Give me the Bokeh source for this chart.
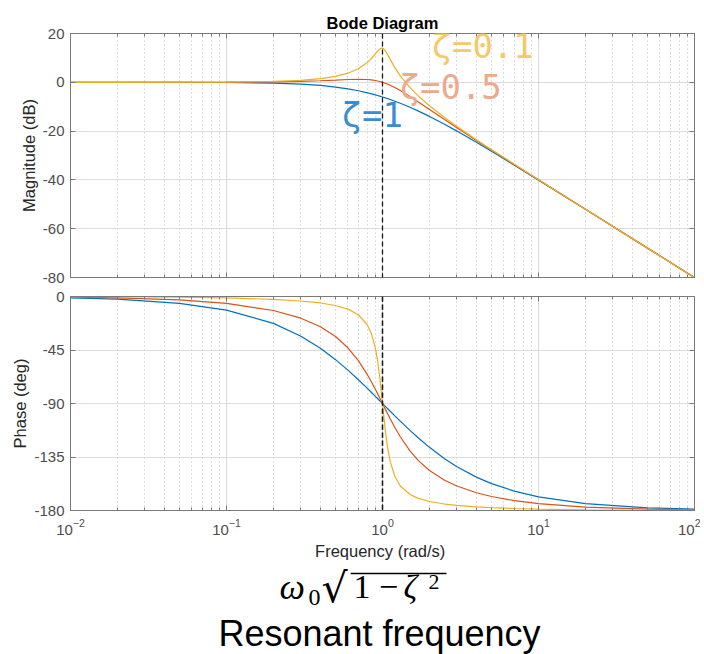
from bokeh.plotting import figure
from bokeh.layouts import column
from bokeh.models import FixedTicker, LinearAxis, LogAxis, Span, Label, Arrow, Range1d, Title
from bokeh.embed import file_html
from bokeh.resources import INLINE

# ---------------- data ----------------
freq = [0.01, 0.02, 0.05, 0.1, 0.2, 0.3, 0.4, 0.5, 0.6, 0.7, 0.8, 0.85, 0.9, 0.93,
        0.96, 0.98, 0.99, 1.0, 1.01, 1.02, 1.05, 1.08, 1.12, 1.2, 1.3, 1.5, 1.7, 2,
        2.5, 3, 4, 5, 7, 10, 20, 50, 100]

mag_z1 = [0.0, 0.0, -0.02, -0.09, -0.34, -0.75, -1.29, -1.94, -2.67, -3.46, -4.30,
          -4.72, -5.15, -5.41, -5.67, -5.85, -5.93, -6.02, -6.11, -6.19, -6.45, -6.71,
          -7.06, -7.75, -8.60, -10.24, -11.80, -13.98, -17.21, -20.00, -24.61, -28.30,
          -33.98, -40.09, -52.06, -67.96, -80.00]
mag_z05 = [0.0, 0.0, 0.01, 0.04, 0.17, 0.37, 0.63, 0.90, 1.14, 1.25, 1.14, 0.97, 0.73,
           0.54, 0.33, 0.17, 0.09, 0.0, -0.09, -0.18, -0.47, -0.77, -1.20, -2.13, -3.36,
           -5.81, -8.10, -11.14, -15.29, -18.63, -23.82, -27.79, -33.72, -39.96, -52.03,
           -67.96, -80.00]
mag_z01 = [0.0, 0.0, 0.02, 0.09, 0.35, 0.80, 1.48, 2.42, 3.73, 5.53, 8.09, 9.75, 11.64,
           12.77, 13.66, 13.98, 14.02, 13.98, 13.85, 13.64, 12.63, 11.29, 9.40, 6.00, 2.65,
           -2.18, -5.67, -9.62, -14.44, -18.09, -23.53, -27.61, -33.63, -39.91, -52.02,
           -67.96, -80.00]

ph_z1 = [-1.15, -2.29, -5.72, -11.42, -22.62, -33.40, -43.60, -53.13, -61.93, -69.98,
         -77.32, -80.73, -83.97, -85.83, -87.66, -88.84, -89.42, -90.00, -90.57, -91.13,
         -92.79, -94.41, -96.48, -100.39, -104.86, -112.62, -119.07, -126.87, -136.40,
         -143.13, -151.93, -157.38, -163.74, -168.58, -174.28, -177.71, -178.85]
ph_z05 = [-0.57, -1.15, -2.87, -5.77, -11.77, -18.25, -25.46, -33.69, -43.15, -53.93,
          -65.77, -71.92, -78.08, -81.73, -85.33, -87.69, -88.85, -90.00, -91.14, -92.27,
          -95.58, -98.76, -102.80, -110.14, -117.96, -129.81, -138.03, -146.31, -154.54,
          -159.44, -165.07, -168.23, -171.70, -174.23, -177.13, -178.85, -179.43]
ph_z01 = [-0.11, -0.23, -0.57, -1.16, -2.39, -3.77, -5.44, -7.59, -10.62, -15.35,
          -23.96, -31.49, -43.45, -54.01, -67.79, -78.58, -84.26, -90.00, -95.68, -101.20,
          -116.02, -127.61, -138.63, -151.39, -159.35, -166.50, -169.80, -172.41, -174.56,
          -175.71, -176.95, -177.61, -178.33, -178.84, -179.43, -179.77, -179.89]

zeta_labels = ["ζ=1", "ζ=0.5", "ζ=0.1"]
omega0 = 1.0
x_ticks = [0.01, 0.1, 1, 10, 100]
mag_ticks = [-80, -60, -40, -20, 0, 20]
phase_ticks = [-180, -135, -90, -45, 0]

# ---------------- style ----------------
BLUE, ORANGE, YELLOW = "#0072BD", "#D95319", "#EDB120"
FRAME = "#7a7a7a"
TICKTXT = "#4d4d4d"
FONT = "Liberation Sans"
W = 700
BL, BR = 70, 6

x_minor = [m * 10.0 ** e for e in range(-2, 2) for m in range(2, 10)]
xr = Range1d(0.01, 100)


def style_axis(ax, labels=True):
    ax.axis_line_color = FRAME
    ax.major_tick_line_color = FRAME
    ax.minor_tick_line_color = FRAME
    ax.major_tick_in = 5
    ax.major_tick_out = 0
    ax.minor_tick_in = 3
    ax.minor_tick_out = 0
    ax.major_label_text_font = FONT
    ax.major_label_text_color = TICKTXT
    ax.axis_label_text_font = FONT
    ax.axis_label_text_font_style = "normal"
    ax.axis_label_text_font_size = "16.5px"
    ax.axis_label_text_color = "#262626"
    if labels:
        ax.major_label_text_font_size = "15px"
        ax.major_label_standoff = 6
    else:
        ax.major_label_text_font_size = "1px"
        ax.major_label_text_color = None
        ax.major_label_standoff = 0


def make_panel(height, yr, yticks, btop, bbottom, xlabels=False, top_gap=0):
    p = figure(width=W, height=height, x_axis_type="log", x_range=xr, y_range=yr,
               output_backend="svg", toolbar_location=None, title=None,
               min_border_left=BL, min_border_right=BR,
               min_border_top=btop, min_border_bottom=bbottom)
    xt = FixedTicker(ticks=x_ticks, minor_ticks=x_minor)
    yt = FixedTicker(ticks=yticks)
    bottom_ax = p.below[0]
    left_ax = p.left[0]
    bottom_ax.ticker = xt
    left_ax.ticker = yt
    style_axis(bottom_ax, labels=xlabels)
    style_axis(left_ax, labels=True)
    left_ax.axis_label_standoff = 2
    left_ax.major_label_overrides = {t: str(t) for t in yticks}
    top_ax = LogAxis(ticker=xt)
    style_axis(top_ax, labels=False)
    top_ax.major_label_standoff = top_gap
    right_ax = LinearAxis(ticker=yt)
    style_axis(right_ax, labels=False)
    p.add_layout(top_ax, "above")
    p.add_layout(right_ax, "right")
    p.outline_line_color = FRAME
    p.xgrid.grid_line_color = "#dcdcdc"
    p.xgrid.minor_grid_line_color = "#bdbdbd"
    p.xgrid.minor_grid_line_dash = "1 3"
    p.ygrid.grid_line_color = "#dcdcdc"
    p.background_fill_color = "white"
    p.border_fill_color = "white"
    return p, bottom_ax, left_ax, top_ax


DASH = dict(line_color="#1a1a1a", line_dash="5 3", line_width=1.3)

# ---------------- magnitude ----------------
pm, pm_bottom, pm_left, pm_top = make_panel(286, Range1d(-80, 20), mag_ticks, 33, 9,
                                            top_gap=6)
title = Title(text="Bode Diagram", align="center", text_font=FONT,
              text_font_size="16.5px", text_font_style="bold", text_color="black",
              standoff=4)
pm.add_layout(title, "above")
pm.above = [pm_top, title]
pm_left.axis_label = "Magnitude (dB)"

for ys, c in ((mag_z1, BLUE), (mag_z05, ORANGE), (mag_z01, YELLOW)):
    pm.line(freq, ys, line_color=c, line_width=1.2)

pm.add_layout(Span(location=omega0, dimension="height", **DASH))
pm.add_layout(Arrow(x_start=omega0, y_start=-80, x_end=omega0, y_end=-90,
                    start=None, end=None, **DASH))

lab_font = "DejaVu Sans Mono"
for txt, x, y, col in ((zeta_labels[2], 2.06, 15.0, "#f3c96b"),
                       (zeta_labels[1], 1.285, -1.9, "#eda98c"),
                       (zeta_labels[0], 0.546, -13.4, "#3a8dd0")):
    pm.add_layout(Label(x=x, y=y, text=txt, text_font=lab_font, text_font_size="34px",
                        text_color=col, text_baseline="alphabetic"))

# ---------------- phase ----------------
pp, pp_bottom, pp_left, pp_top = make_panel(276, Range1d(-180, 0), phase_ticks, 10, 52,
                                            xlabels=True)
pp_left.axis_label = "Phase (deg)"
pp_bottom.axis_label = "Frequency  (rad/s)"
pp_bottom.axis_label_standoff = 4
pp_bottom.major_label_standoff = 8
for ys, c in ((ph_z1, BLUE), (ph_z05, ORANGE), (ph_z01, YELLOW)):
    pp.line(freq, ys, line_color=c, line_width=1.2)
pp.add_layout(Span(location=omega0, dimension="height", **DASH))
pp.add_layout(Arrow(x_start=omega0, y_start=20, x_end=omega0, y_end=-225,
                    start=None, end=None, **DASH))

# ---------------- annotation strip ----------------
pa = figure(width=W, height=92, x_axis_type="log", x_range=xr, y_range=Range1d(92, 0),
            output_backend="svg", toolbar_location=None,
            x_axis_location=None, y_axis_location=None,
            min_border_left=BL, min_border_right=BR, min_border_top=0, min_border_bottom=0)
pa.outline_line_color = None
pa.xgrid.visible = False
pa.ygrid.visible = False

serif = "Liberation Serif"
math_parts = [
    ("ω", -103, 24, "36px", "italic", serif),
    ("0", -74, 35, "24px", "normal", serif),
    ("√", -61, 25, "41px", "normal", "DejaVu Serif"),
    ("1 − ", -29, 24, "34px", "normal", serif),
    ("ζ", 21, 24, "34px", "italic", serif),
    ("2", 46, 19, "22px", "normal", serif),
]
for txt, dx, y, fs, style, fnt in math_parts:
    pa.add_layout(Label(x=omega0, y=y, x_offset=dx, text=txt, text_font=fnt,
                        text_font_style=style, text_font_size=fs, text_color="black",
                        text_baseline="alphabetic"))
pa.add_layout(Arrow(x_start=0.625, y_start=11, x_end=2.57, y_end=11, start=None, end=None,
                    line_color="black", line_width=1.5))
pa.add_layout(Label(x=omega0, y=71, x_offset=-3, text="Resonant frequency", text_font=FONT,
                    text_font_size="36px", text_align="center", text_color="black",
                    text_baseline="alphabetic"))

layout = column(pm, pp, pa, spacing=0)
open("out.html", "w").write(file_html(layout, INLINE))
